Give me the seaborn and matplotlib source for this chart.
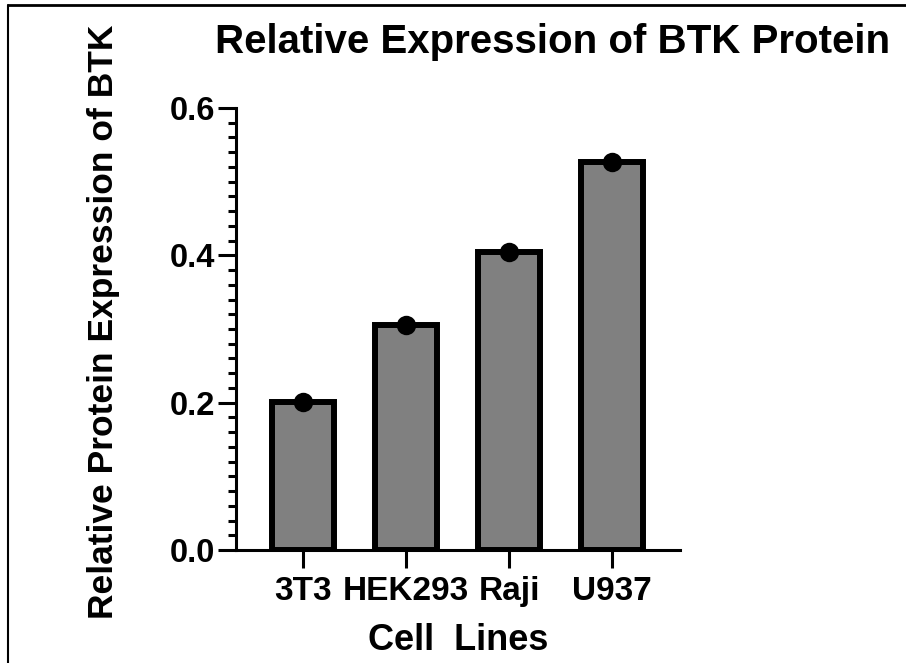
import matplotlib
matplotlib.use("Agg")
import matplotlib.pyplot as plt
from matplotlib.lines import Line2D
from matplotlib.ticker import MultipleLocator
import seaborn as sns
import pandas as pd

# Data
cell_lines = ["3T3", "HEK293", "Raji", "U937"]
expression = [0.201, 0.305, 0.404, 0.527]

df = pd.DataFrame({"Cell Line": cell_lines, "Expression": expression})

sns.set_theme(style="ticks", rc={
    "text.color": "black",
    "axes.labelcolor": "black",
    "xtick.color": "black",
    "ytick.color": "black",
    "axes.edgecolor": "black",
})
plt.rcParams["font.family"] = ["Liberation Sans", "DejaVu Sans"]
plt.rcParams["font.weight"] = "bold"

fig = plt.figure(figsize=(9.06, 6.63), dpi=100)
ax = fig.add_axes([0.2605, 0.1704, 0.4901, 0.6667])

sns.barplot(data=df, x="Cell Line", y="Expression", color="#808080",
            edgecolor="black", linewidth=4.3, width=0.6, saturation=1,
            errorbar=None, ax=ax, zorder=2)
sns.stripplot(data=df, x="Cell Line", y="Expression", color="black",
              size=14, jitter=False, ax=ax, zorder=4)

ax.set_xlim(-0.65, 3.66)
ax.set_ylim(0, 0.6)
ax.yaxis.set_major_locator(MultipleLocator(0.2))
ax.yaxis.set_minor_locator(MultipleLocator(0.02))
ax.set_yticklabels([f"{v:.1f}" for v in ax.get_yticks()])

for side in ("top", "right"):
    ax.spines[side].set_visible(False)
for side in ("left", "bottom"):
    ax.spines[side].set_linewidth(2.2)
    ax.spines[side].set_color("black")

ax.tick_params(axis="y", which="major", length=13, width=2.2, labelsize=23.5, pad=2)
ax.tick_params(axis="y", which="minor", length=6, width=2.2)
ax.tick_params(axis="x", which="major", length=13, width=2.2, labelsize=24, pad=6)
for lbl in ax.get_xticklabels() + ax.get_yticklabels():
    lbl.set_fontweight("bold")

ax.set_xlabel("Cell  Lines", fontsize=26, fontweight="bold")
ax.xaxis.label.set_va("top")
ax.xaxis.set_label_coords(0.5, -0.165)
ax.set_ylabel("Relative Protein Expression of BTK", fontsize=25.5,
              fontweight="bold")
ax.yaxis.set_label_coords(-0.262, 0.516)

fig.text(0.61, 0.937, "Relative Expression of BTK Protein", fontsize=29,
         fontweight="bold", ha="center", va="center")

# Page frame along the top and left edges
fig.add_artist(Line2D([0.009, 1.0], [0.993, 0.993], color="black", lw=2,
                      transform=fig.transFigure))
fig.add_artist(Line2D([0.009, 0.009], [0.0, 0.993], color="black", lw=1.5,
                      transform=fig.transFigure))

fig.savefig("out.png", dpi=100)
